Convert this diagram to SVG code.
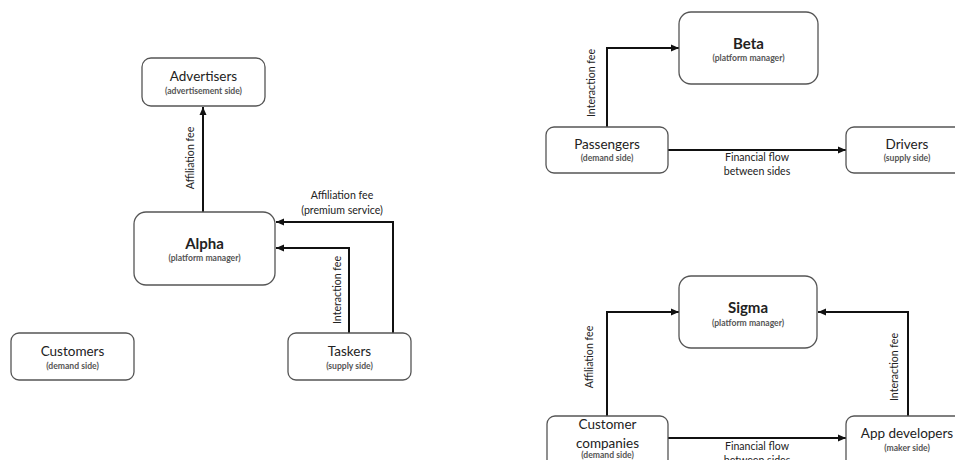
<svg xmlns="http://www.w3.org/2000/svg" width="955" height="460" viewBox="0 0 955 460">
<style>
.box{fill:#fff;stroke:#555;stroke-width:1.3}
.t{font-family:Lato,"Open Sans","Liberation Sans",sans-serif;fill:#222;text-anchor:middle}
.title{font-size:13.5px}
.bold{font-size:15px;font-weight:bold}
.sub{font-size:8.6px;fill:#555;font-weight:bold}
.lbl{font-family:Lato,"Open Sans","Liberation Sans",sans-serif;font-size:10.6px;fill:#222;text-anchor:middle}
.c{fill:none;stroke:#111;stroke-width:2;marker-end:url(#ah)}
</style>
<defs>
<marker id="ah" markerUnits="userSpaceOnUse" markerWidth="10" markerHeight="10" viewBox="0 0 10 10" refX="9" refY="5" orient="auto">
<path d="M1,1.5 L9,5 L1,8.5 z" fill="#111"/>
</marker>
</defs>
<rect width="955" height="460" fill="#fff"/>
<g id="connectors">
<path class="c" d="M203,212 V107"/>
<path class="c" d="M393,333 V222 H276"/>
<path class="c" d="M349,333 V248 H276"/>
<path class="c" d="M607,127 V48 H679"/>
<path class="c" d="M668,150 H846"/>
<path class="c" d="M607,416 V312 H679"/>
<path class="c" d="M908,416 V312 H818"/>
<path class="c" d="M668,438 H846"/>
<text class="lbl" transform="translate(194,158) rotate(-90)">Affiliation fee</text>
<text class="lbl" x="342" y="199">Affiliation fee</text>
<text class="lbl" x="342" y="214">(premium service)</text>
<text class="lbl" transform="translate(341,290) rotate(-90)">Interaction fee</text>
<text class="lbl" transform="translate(595,83) rotate(-90)">Interaction fee</text>
<text class="lbl" x="757" y="161">Financial flow</text>
<text class="lbl" x="757" y="175">between sides</text>
<text class="lbl" transform="translate(593,357) rotate(-90)">Affiliation fee</text>
<text class="lbl" transform="translate(898,367) rotate(-90)">Interaction fee</text>
<text class="lbl" x="757" y="450">Financial flow</text>
<text class="lbl" x="757" y="464">between sides</text>
</g>
<g id="advertisers">
<rect class="box" x="142" y="58" width="123" height="48" rx="9"/>
<text class="t title" x="203.5" y="81">Advertisers</text>
<text class="t sub" x="203.5" y="94">(advertisement side)</text>
</g>
<g id="alpha">
<rect class="box" x="134" y="212" width="141" height="73" rx="12"/>
<text class="t bold" x="204.5" y="248.5">Alpha</text>
<text class="t sub" x="204.5" y="261">(platform manager)</text>
</g>
<g id="customers">
<rect class="box" x="11" y="333" width="123" height="47" rx="8"/>
<text class="t title" x="72.5" y="356">Customers</text>
<text class="t sub" x="72.5" y="369">(demand side)</text>
</g>
<g id="taskers">
<rect class="box" x="288" y="333" width="123" height="47" rx="8"/>
<text class="t title" x="349.5" y="356">Taskers</text>
<text class="t sub" x="349.5" y="369">(supply side)</text>
</g>
<g id="beta">
<rect class="box" x="679" y="12" width="139" height="72" rx="12"/>
<text class="t bold" x="748.5" y="48.5">Beta</text>
<text class="t sub" x="748.5" y="61">(platform manager)</text>
</g>
<g id="passengers">
<rect class="box" x="546" y="127" width="122" height="46" rx="8"/>
<text class="t title" x="607" y="149">Passengers</text>
<text class="t sub" x="607" y="161">(demand side)</text>
</g>
<g id="drivers">
<rect class="box" x="846" y="127" width="122" height="46" rx="8"/>
<text class="t title" x="907" y="149">Drivers</text>
<text class="t sub" x="907" y="161">(supply side)</text>
</g>
<g id="sigma">
<rect class="box" x="679" y="276" width="138" height="72" rx="12"/>
<text class="t bold" x="748" y="312.5">Sigma</text>
<text class="t sub" x="748" y="326">(platform manager)</text>
</g>
<g id="customer-companies">
<rect class="box" x="547" y="416" width="121" height="60" rx="8"/>
<text class="t title" x="607.5" y="429">Customer</text>
<text class="t title" x="607.5" y="448">companies</text>
<text class="t sub" x="607.5" y="457.5">(demand side)</text>
</g>
<g id="app-developers">
<rect class="box" x="846" y="416" width="122" height="60" rx="8"/>
<text class="t title" x="907" y="438">App developers</text>
<text class="t sub" x="907" y="451">(maker side)</text>
</g>
</svg>
